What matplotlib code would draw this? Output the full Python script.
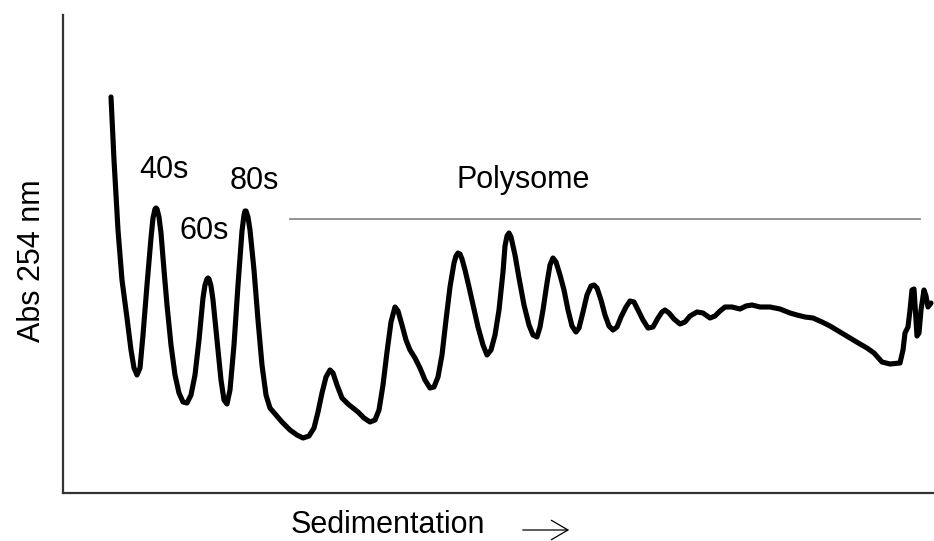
import matplotlib
matplotlib.use("Agg")
from matplotlib import pyplot as plt

plt.rcParams['font.family'] = ['Liberation Sans', 'DejaVu Sans']

# sedimentation position (arbitrary units) and absorbance at 254 nm (arbitrary units)
position = [111, 114, 118, 122, 127, 131, 134, 137, 140, 143,
            147, 151, 153, 155, 156, 157, 159, 161, 164, 167, 171, 175,
            179, 183, 187, 191, 195, 199, 203, 205, 207, 208, 209, 211,
            213, 217, 221, 224, 227, 230, 234, 238, 242, 244, 245, 246,
            248, 250, 254, 258, 262, 266, 270, 276, 282, 290,
            297, 303, 309, 314, 318, 322, 326, 330, 333, 337,
            342, 348, 353, 358, 364, 370, 375, 379, 383, 387,
            391, 395, 398, 402, 406, 410, 415, 420, 425, 430,
            434, 438, 442, 446, 450, 454, 456, 458, 460, 462, 465, 469,
            473, 478, 483, 487, 491, 495, 499, 503, 505, 507, 509,
            511, 515, 519, 524, 529, 533, 537, 540, 543, 547,
            550, 553, 556, 560, 564, 568, 572, 576, 579, 583,
            587, 591, 594, 597, 601, 605, 609, 613, 617, 621,
            626, 630, 634, 638, 643, 648, 653, 658, 662, 665,
            669, 674, 680, 685, 690, 697, 703, 710, 715, 720,
            725, 732, 740, 746, 752, 760, 770, 780, 790, 797,
            805, 813, 822, 830, 840, 850, 860, 867, 874, 882,
            890, 900, 903, 905, 908, 910, 912, 914, 916, 917,
            919, 921, 924, 926, 928, 931]
absorbance = [396, 333, 263, 213, 175, 143, 125, 118, 125, 158,
              208, 255, 275, 284, 285, 284, 276, 260, 223, 188, 148, 118,
              100, 91, 90, 98, 118, 153, 195, 208, 214, 215, 214, 207,
              193, 153, 113, 93, 89, 103, 148, 208, 262, 278, 282, 282,
              276, 263, 223, 173, 128, 98, 85, 78, 71, 63,
              58, 55, 57, 65, 81, 100, 116, 123, 120, 108,
              95, 89, 85, 81, 75, 71, 73, 83, 108, 141,
              171, 186, 182, 168, 153, 143, 135, 125, 113, 105,
              106, 116, 138, 173, 206, 230, 237, 240, 239, 234, 223, 206,
              188, 166, 148, 138, 143, 158, 183, 221, 247, 257, 260,
              256, 238, 215, 188, 168, 158, 156, 166, 183, 210,
              228, 235, 231, 218, 203, 183, 167, 161, 165, 181,
              198, 207, 208, 205, 193, 178, 167, 163, 166, 176,
              186, 192, 191, 183, 173, 165, 166, 175, 181, 183,
              180, 174, 169, 171, 177, 181, 180, 175, 177, 182,
              186, 186, 184, 187, 188, 186, 186, 184, 180, 178,
              176, 175, 171, 167, 161, 155, 149, 145, 140, 131,
              129, 130, 143, 160, 166, 183, 203, 204, 173, 157,
              160, 183, 203, 197, 186, 190]

peak_labels = ['40s', '60s', '80s']
peak_label_pos = [(164, 323), (204, 262), (254, 312)]
polysome_range = (290, 920)
polysome_level = 274

fig = plt.figure(figsize=(9.34, 5.41), dpi=100)
ax = fig.add_axes([63 / 934, 48 / 541, 871 / 934, 478 / 541])

ax.plot(position, absorbance, color='black', lw=3.7,
        solid_joinstyle='round', solid_capstyle='round')

for lab, (x, y) in zip(peak_labels, peak_label_pos):
    ax.text(x, y, lab, ha='center', va='center', fontsize=22)

ax.plot(polysome_range, [polysome_level, polysome_level], color='#8a8a8a', lw=1.3)
ax.text(sum(polysome_range) / 2 - 82, polysome_level + 39, 'Polysome',
        ha='center', va='center', fontsize=22)

ax.set_xlim(63, 934)
ax.set_ylim(0, 478)
ax.set_xticks([])
ax.set_yticks([])
for side in ['top', 'right']:
    ax.spines[side].set_visible(False)
for side in ['left', 'bottom']:
    ax.spines[side].set_color('#333333')
    ax.spines[side].set_linewidth(1.6)

fig.text(32 / 934, 1 - 261 / 541, 'Abs 254 nm', rotation=90,
         ha='center', va='center', fontsize=22)
fig.text(388 / 934, 1 - 525 / 541, 'Sedimentation', ha='center', va='center',
         fontsize=22)
fig.add_artist(matplotlib.patches.FancyArrowPatch(
    (520 / 934, 1 - 530 / 541), (572 / 934, 1 - 530 / 541),
    transform=fig.transFigure, arrowstyle='->,head_length=12,head_width=7',
    lw=0.9, color='black', mutation_scale=1))

fig.savefig('out.png', dpi=100)
